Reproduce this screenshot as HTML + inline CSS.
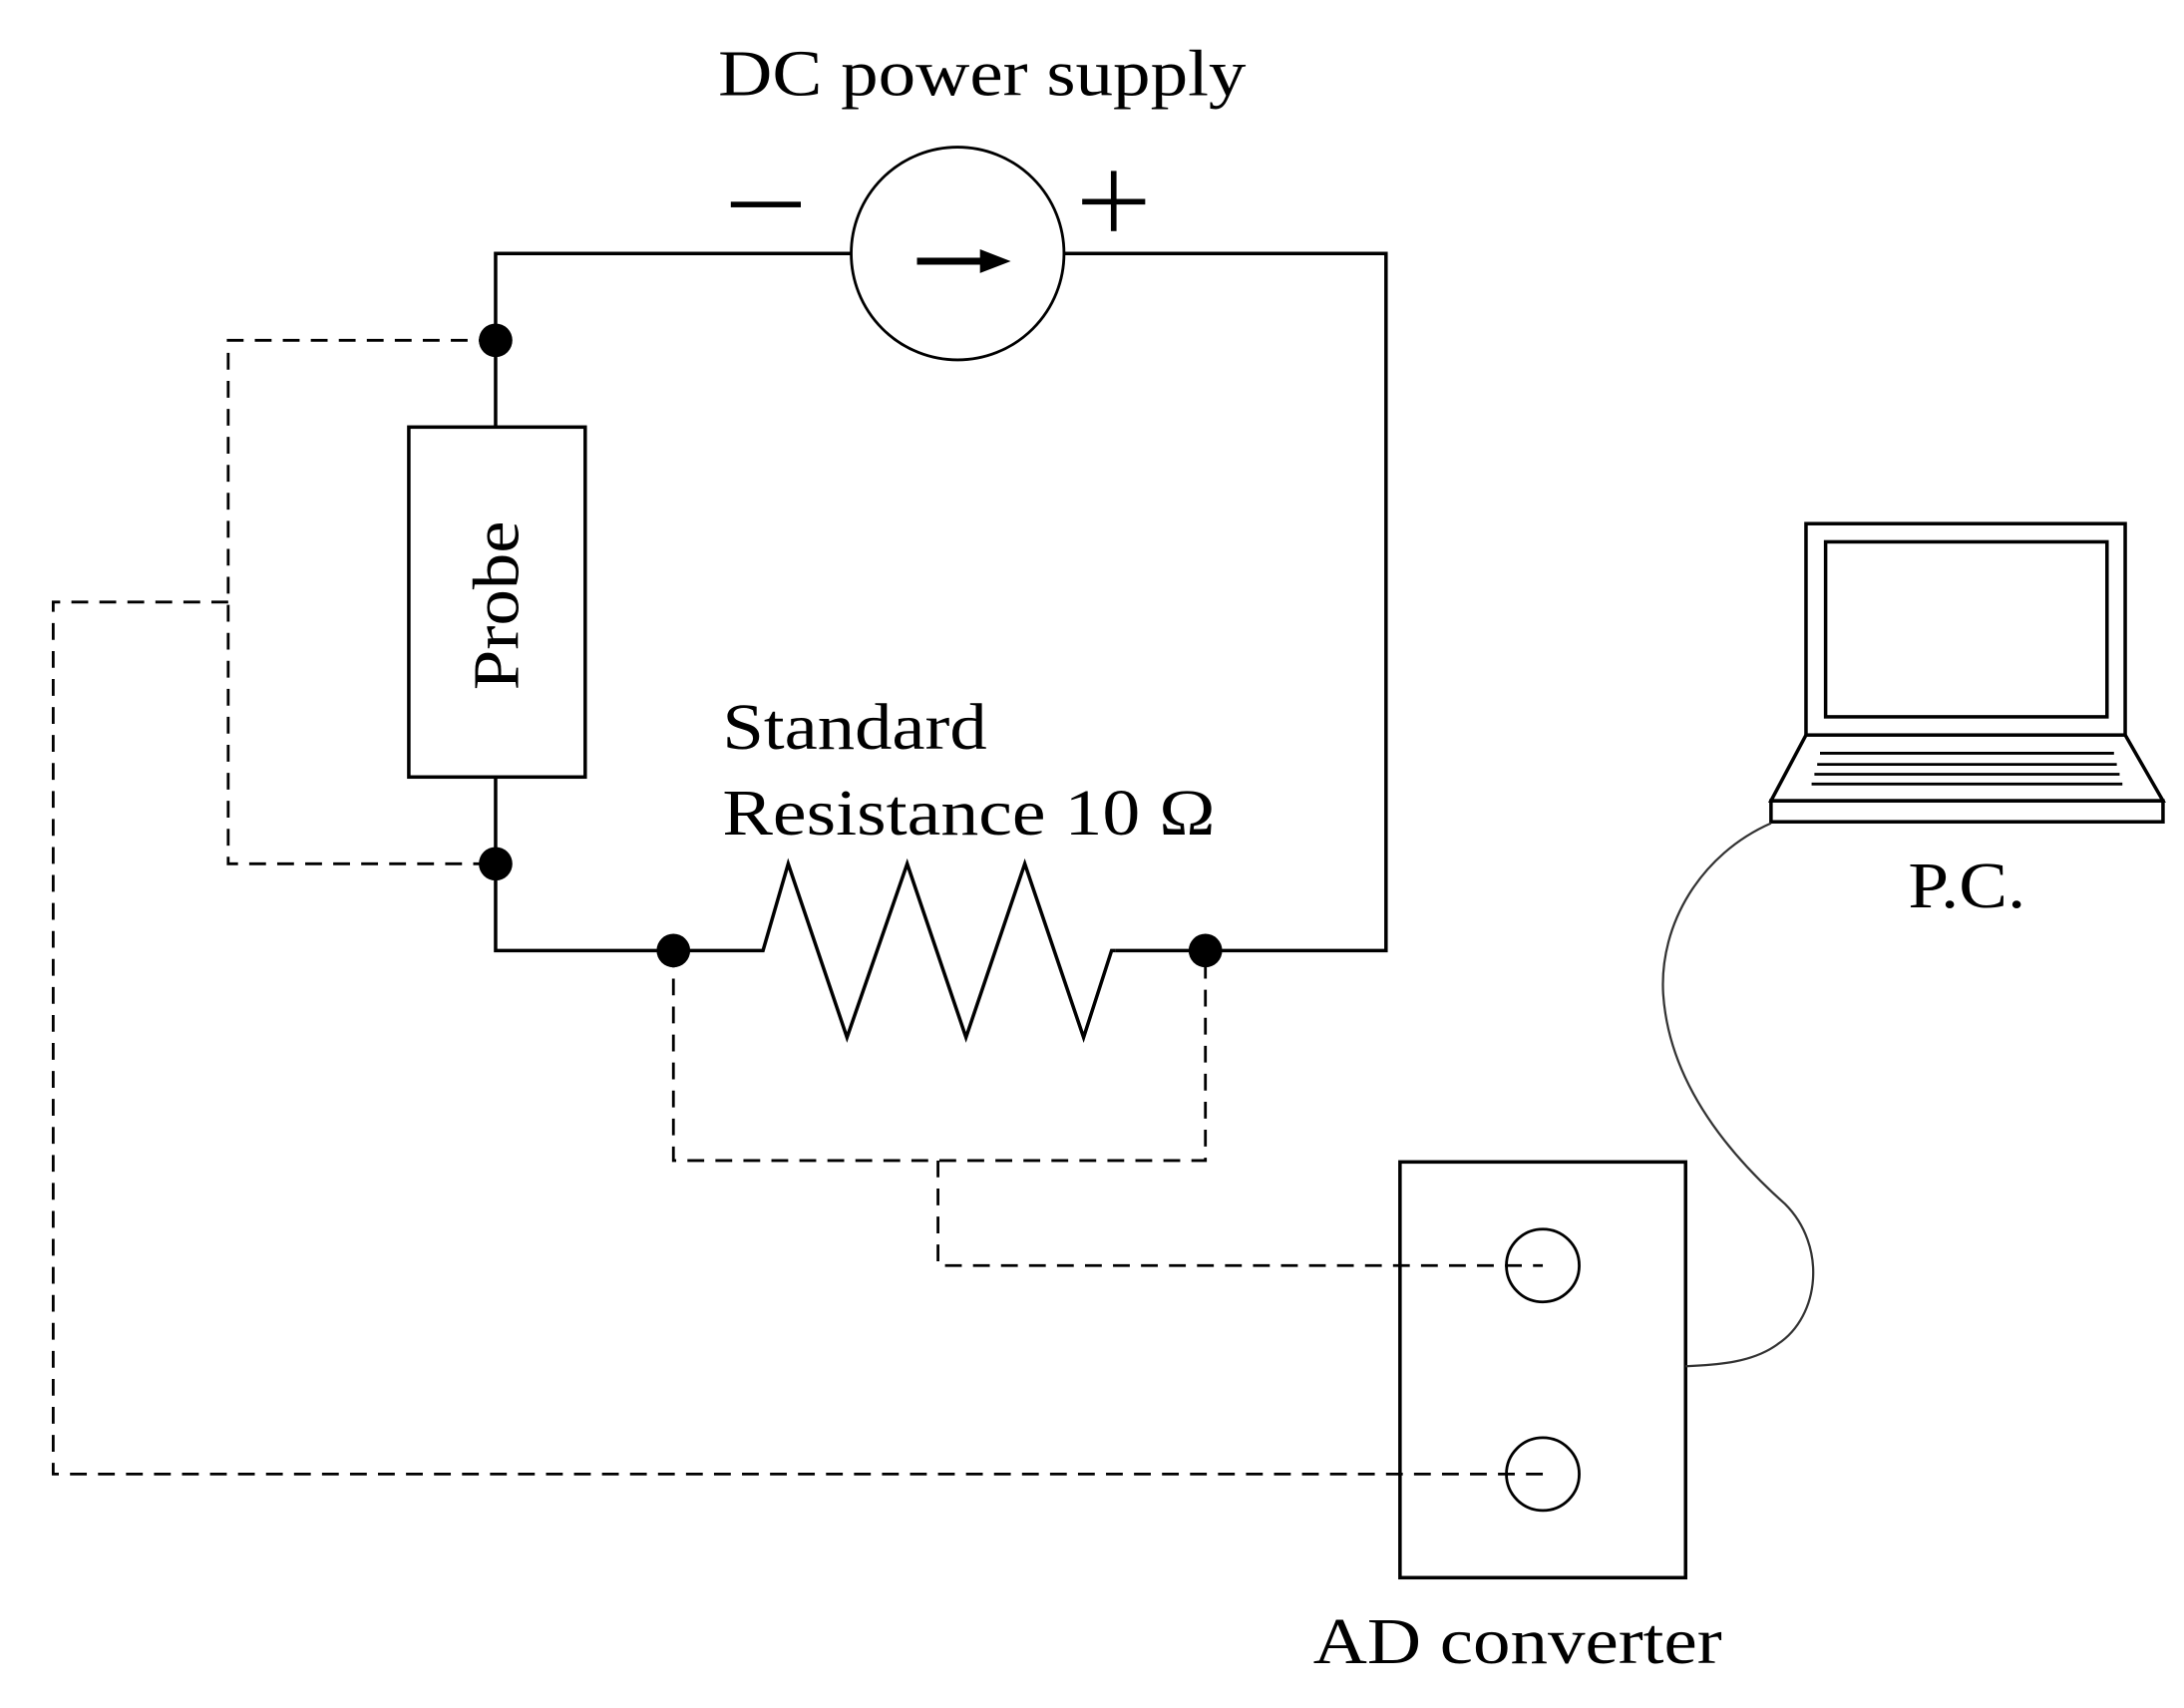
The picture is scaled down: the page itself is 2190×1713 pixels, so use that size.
<!DOCTYPE html>
<html><head><meta charset="utf-8"><style>html,body{margin:0;padding:0;background:#fff}svg{display:block}</style></head>
<body>
<svg width="2190" height="1713" viewBox="0 0 1560 1220" xmlns="http://www.w3.org/2000/svg" font-family="'Liberation Serif', serif">
<rect width="1560" height="1220" fill="#fff"/>
<g stroke="#000" stroke-width="2.5" fill="none">
  <polyline points="608,181 354,181 354,305"/>
  <polyline points="760,181 990,181 990,679 797,679"/>
  <rect x="292" y="305" width="126" height="250"/>
  <polyline points="354,555 354,679 545,679 563,617 605,741 648,617 690,741 732,617 774,741 794,679 797,679"/>
  <circle cx="684" cy="181" r="76" stroke-width="2"/>
  <rect x="1000" y="830" width="204" height="297"/>
  <circle cx="1102" cy="904" r="26" stroke-width="2"/>
  <circle cx="1102" cy="1053" r="26" stroke-width="2"/>
  <rect x="1290" y="374" width="228" height="151"/>
  <rect x="1304" y="387" width="201" height="125"/>
  <polyline points="1290,525 1265,572 1545,572 1518,525"/>
  <rect x="1265" y="572" width="280" height="15"/>
  <path d="M1300,538 H1510 M1298,546 H1512 M1296,553 H1514 M1294,560 H1516" stroke-width="2"/>
  <path d="M1265,588 C1215,610 1185,660 1188,710 C1192,770 1230,820 1275,860 C1305,890 1300,940 1270,960 C1250,975 1220,975 1204,976" stroke-width="1.6" stroke="#333"/>
</g>
<g stroke="#000" stroke-width="2" fill="none" stroke-dasharray="12,8">
  <polyline points="354,243 163,243 163,617 354,617"/>
  <polyline points="163,430 38,430 38,1053 1102,1053"/>
  <polyline points="481,679 481,829 861,829 861,679"/>
  <polyline points="670,829 670,904 1102,904"/>
</g>
<g fill="#000">
  <circle cx="354" cy="243" r="12"/>
  <circle cx="354" cy="617" r="12"/>
  <circle cx="481" cy="679" r="12"/>
  <circle cx="861" cy="679" r="12"/>
  <rect x="655" y="184" width="52" height="5"/>
  <polygon points="700,178 722,186.5 700,195"/>
  <rect x="522" y="144" width="50" height="4"/>
  <rect x="773" y="142" width="45" height="4"/>
  <rect x="793.5" y="122" width="4" height="43"/>
</g>
<g fill="#000" font-size="47">
  <text x="513" y="68" textLength="377" lengthAdjust="spacingAndGlyphs">DC power supply</text>
  <text x="516" y="535" textLength="189" lengthAdjust="spacingAndGlyphs">Standard</text>
  <text x="516" y="596" textLength="352" lengthAdjust="spacingAndGlyphs">Resistance 10 Ω</text>
  <text x="938" y="1188" textLength="292" lengthAdjust="spacingAndGlyphs">AD converter</text>
  <text x="1363" y="648" textLength="84" lengthAdjust="spacingAndGlyphs">P.C.</text>
  <text transform="translate(370,493) rotate(-90)" textLength="121" lengthAdjust="spacingAndGlyphs">Probe</text>
</g>
</svg>
</body></html>
